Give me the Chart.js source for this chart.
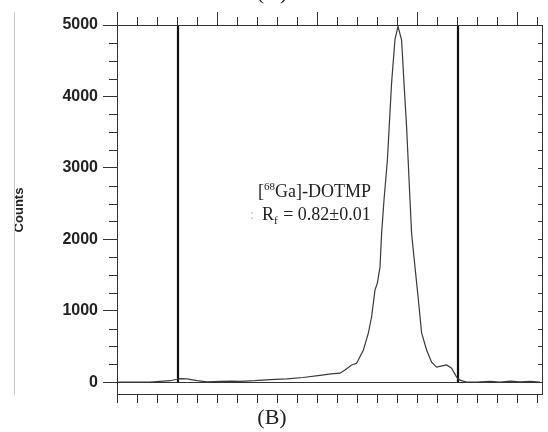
<!DOCTYPE html>
<html>
<head>
<meta charset="utf-8">
<script src="https://cdn.jsdelivr.net/npm/chart.js@4.4.0/dist/chart.umd.min.js"></script>
<style>
  html, body { margin: 0; padding: 0; background: #fff; }
  #wrap { width: 548px; height: 432px; }
</style>
</head>
<body>
<div id="wrap"><canvas id="grafico-tlc"></canvas></div>
<script>
/* DADOS DO CROMATOGRAMA */
const posicao = [0, 1.65, 2.65, 3.0, 3.15, 3.5, 4.0, 4.5, 5.15, 5.7, 6.15, 6.9, 7.65, 8.5, 9.3, 10.15, 10.7, 11.15, 11.4, 11.73, 11.98, 12.32, 12.57, 12.73, 12.9, 13.02, 13.15, 13.23, 13.35, 13.52, 13.62, 13.73, 13.9, 14.05, 14.23, 14.35, 14.48, 14.65, 14.73, 14.9, 15.07, 15.23, 15.48, 15.73, 15.98, 16.2, 16.48, 16.73, 16.98, 17.15, 17.48, 18.0, 18.65, 19.15, 19.65, 20.15, 20.65, 21.15];
const contagens = [0, 0, 20, 40, 50, 45, 20, 5, 10, 15, 10, 20, 35, 45, 65, 95, 115, 125, 170, 240, 265, 450, 690, 915, 1290, 1390, 1610, 2080, 2550, 3110, 3630, 4190, 4800, 4980, 4790, 4190, 3570, 2550, 2080, 1610, 1150, 690, 450, 280, 210, 225, 240, 195, 70, 28, 0, 0, 10, 0, 15, 5, 10, 0];
const linhasRef = [3.05, 17.05];          // origem e frente do solvente
const yTicks = [0, 1000, 2000, 3000, 4000, 5000];
const xTicks = [0, 1, 2, 3, 4, 5, 6, 7, 8, 9, 10, 11, 12, 13, 14, 15, 16, 17, 18, 19, 20, 21];
const rotulo = { x: 7.05, y1: 2590, x2: 7.25, y2: 2270 };

const datasets = [{
    data: posicao.map((p, i) => ({ x: p, y: contagens[i] })),
    borderColor: "#3a3a3a",
    borderWidth: 1.2,
    pointRadius: 0,
    tension: 0
}];
linhasRef.forEach(l => datasets.push({
    data: [{ x: l, y: 0 }, { x: l, y: 5000 }],
    borderColor: "#111",
    borderWidth: 2.2,
    pointRadius: 0
}));

/* PLUGIN: moldura, ticks menores e textos */
const extras = {
    id: 'extras',
    afterDraw(chart) {
        const c = chart.ctx, a = chart.chartArea;
        const sx = chart.scales.x, sy = chart.scales.y;
        c.save();
        c.strokeStyle = "#333";
        c.lineWidth = 1;
        c.beginPath();
        c.moveTo(a.left, a.top + 0.5); c.lineTo(a.right, a.top + 0.5);
        c.moveTo(a.right - 0.5, a.top); c.lineTo(a.right - 0.5, a.bottom);
        c.moveTo(a.left, a.bottom - 0.5); c.lineTo(a.right, a.bottom - 0.5);
        xTicks.forEach(t => {
            const px = Math.round(sx.getPixelForValue(t)) + 0.5;
            c.moveTo(px, a.top - (t % 5 === 0 ? 13 : 8)); c.lineTo(px, a.top);
            c.moveTo(px, a.bottom); c.lineTo(px, a.bottom + 8);
        });
        for (let v = 0; v <= 5000; v += 250) {
            const py = Math.round(sy.getPixelForValue(v)) + 0.5;
            if (v % 1000 !== 0) { c.moveTo(a.left - 8, py); c.lineTo(a.left, py); }
            c.moveTo(a.right - 5, py); c.lineTo(a.right, py);
        }
        c.stroke();
        // linha cinza da borda da imagem
        c.strokeStyle = "#c8c8c8";
        c.beginPath(); c.moveTo(14.5, 12); c.lineTo(14.5, a.bottom); c.stroke();

        // anotação
        c.fillStyle = "#222";
        c.textBaseline = "alphabetic";
        let x = sx.getPixelForValue(rotulo.x), y = sy.getPixelForValue(rotulo.y1);
        c.font = "18px 'Liberation Serif'";
        c.fillText("[", x, y); x += c.measureText("[").width;
        c.font = "11px 'Liberation Serif'";
        c.fillText("68", x, y - 7); x += c.measureText("68").width;
        c.font = "18px 'Liberation Serif'";
        c.fillText("Ga]-DOTMP", x, y);
        x = sx.getPixelForValue(rotulo.x2); y = sy.getPixelForValue(rotulo.y2);
        c.fillStyle = "#bbb";
        c.font = "14px 'Liberation Serif'";
        c.fillText(":", x - 12, y - 1);
        c.fillStyle = "#222";
        c.font = "18px 'Liberation Serif'";
        c.fillText("R", x, y); x += c.measureText("R").width;
        c.font = "11px 'Liberation Serif'";
        c.fillText("f", x, y + 4); x += c.measureText("f").width + 1;
        c.font = "18px 'Liberation Serif'";
        c.fillText(" = 0.82\u00b10.01", x, y);

        // (A) e (B)
        c.textAlign = "center";
        c.font = "22px 'Liberation Serif'";
        c.fillText("(A)", 272, -1);
        c.fillText("(B)", 272, 424);
        c.restore();
    }
};

new Chart(document.getElementById("grafico-tlc"), {
    type: 'line',
    data: { datasets: datasets },
    options: {
        responsive: true,
        maintainAspectRatio: false,
        animation: false,
        layout: { padding: { left: 0, right: 5, top: 25, bottom: 37 } },
        plugins: { legend: { display: false }, tooltip: { enabled: false } },
        scales: {
            x: {
                type: 'linear',
                display: false,
                min: 0,
                max: 21.3
            },
            y: {
                min: -180,
                max: 5000,
                afterBuildTicks: s => { s.ticks = yTicks.map(v => ({ value: v })); },
                afterFit: s => { s.width = 117; },
                border: { display: true, color: "#333", width: 1 },
                grid: {
                    color: ctx => (ctx.tick && ctx.tick.value === 0) ? "#333" : "transparent",
                    tickColor: "#333",
                    tickLength: 14,
                    lineWidth: 1
                },
                ticks: {
                    color: "#222",
                    padding: 5,
                    callback: v => String(v),
                    font: { family: "'Liberation Sans'", size: 16, weight: 'bold' }
                },
                title: {
                    display: true,
                    text: "Counts",
                    color: "#222",
                    padding: { top: 12, bottom: 0 },
                    font: { family: "'Liberation Sans'", size: 13, weight: 'bold' }
                }
            }
        }
    },
    plugins: [extras]
});
</script>
</body>
</html>
